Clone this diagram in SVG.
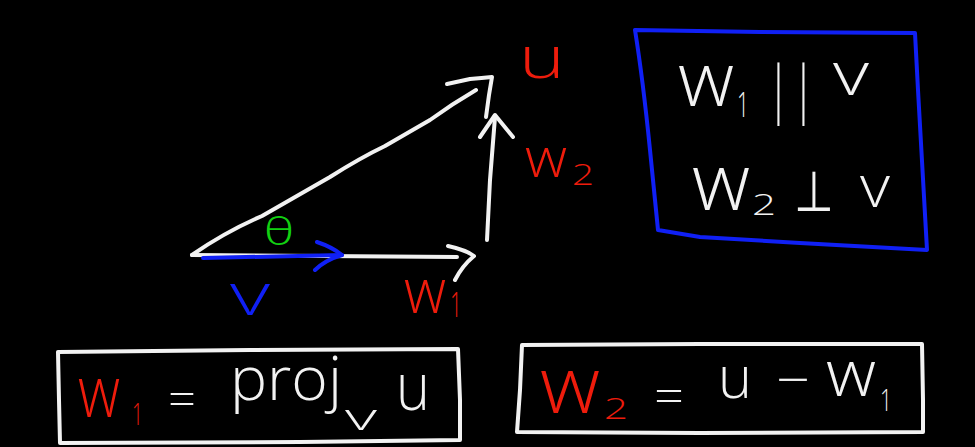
<svg xmlns="http://www.w3.org/2000/svg" width="975" height="447" viewBox="0 0 975 447">
<style>
.ink{fill:none;stroke:#f2f2f2;stroke-width:4;stroke-linecap:round;stroke-linejoin:round}
.bl{fill:none;stroke:#1020f5;stroke-width:4;stroke-linecap:round;stroke-linejoin:round}
text{font-family:"Open Sans","DejaVu Sans",sans-serif;font-weight:300}
.w{fill:#f2f2f2}.r{fill:#ee1c0c}.b{fill:#1020f5}.g{fill:#12d012}
</style>
<rect width="975" height="447" fill="#000"/>
<g id="connectors">
<path class="ink" d="M192,255 Q225,232 262,216 L330,177 Q360,158 385,146 L430,120 Q452,104 476,90"/>
<path class="ink" d="M447,84 L470,79 Q482,78 492,77 L489,95 L486,117"/>
<path class="ink" d="M192,255 L457,257"/>
<path class="ink" d="M448,246 Q466,250 474,256 Q462,266 455,280"/>
<path class="ink" d="M487,240 L490,180 L495,117"/>
<path class="ink" d="M480,137 L495,115 L513,137"/>
<path class="bl" stroke-width="5" d="M203,258 L342,255"/>
<path class="bl" d="M317,242 Q332,247 342,255 Q325,260 315,270"/>
</g>
<g id="labels">
<text class="r" x="519" y="78" font-size="58" textLength="46" lengthAdjust="spacingAndGlyphs">u</text>
<text class="r" x="525" y="177" font-size="56" textLength="42" lengthAdjust="spacingAndGlyphs">w</text>
<text class="r" x="572" y="185" font-size="30" textLength="22" lengthAdjust="spacingAndGlyphs">2</text>
<text class="g" x="264" y="245" font-size="38" textLength="30" lengthAdjust="spacingAndGlyphs">θ</text>
<text class="b" x="230" y="315" font-size="58" textLength="40" lengthAdjust="spacingAndGlyphs">v</text>
<text class="r" x="404" y="313" font-size="62" textLength="42" lengthAdjust="spacingAndGlyphs">w</text>
<text class="r" x="450" y="317" font-size="34" textLength="12" lengthAdjust="spacingAndGlyphs">1</text>
</g>
<g id="box-relations">
<path class="bl" d="M635,30 L760,32 L915,33 L918,90 L927,250 L800,243 L700,237 L658,230 L650,150 Q643,80 635,30 Z"/>
<text class="w" x="678" y="106" font-size="76" textLength="56" lengthAdjust="spacingAndGlyphs">w</text>
<text class="w" x="737" y="117" font-size="34" textLength="12" lengthAdjust="spacingAndGlyphs">1</text>
<text class="w" x="766" y="110" font-size="62" textLength="50" lengthAdjust="spacingAndGlyphs">||</text>
<text class="w" x="833" y="95" font-size="60" textLength="36" lengthAdjust="spacingAndGlyphs">v</text>
<text class="w" x="692" y="210" font-size="80" textLength="58" lengthAdjust="spacingAndGlyphs">w</text>
<text class="w" x="752" y="215" font-size="30" textLength="24" lengthAdjust="spacingAndGlyphs">2</text>
<text class="w" x="794" y="211" font-size="56" textLength="40" lengthAdjust="spacingAndGlyphs">⊥</text>
<text class="w" x="860" y="207" font-size="58" textLength="30" lengthAdjust="spacingAndGlyphs">v</text>
</g>
<g id="box-w1">
<path class="ink" d="M58,352 L250,350 L458,349 L460,400 L460,440 L300,442 L60,443 L59,400 Z"/>
<text class="r" x="78" y="417" font-size="72" textLength="42" lengthAdjust="spacingAndGlyphs">w</text>
<text class="r" x="132" y="425" font-size="32" textLength="11" lengthAdjust="spacingAndGlyphs">1</text>
<text class="w" x="168" y="416" font-size="48" textLength="28" lengthAdjust="spacingAndGlyphs">=</text>
<text class="w" x="230" y="400" font-size="60" textLength="112" lengthAdjust="spacingAndGlyphs">proj</text>
<text class="w" x="345" y="430" font-size="36" textLength="32" lengthAdjust="spacingAndGlyphs">v</text>
<text class="w" x="396" y="410" font-size="66" textLength="34" lengthAdjust="spacingAndGlyphs">u</text>
</g>
<g id="box-w2">
<path class="ink" d="M522,345 L700,344 L922,344 L923,400 L923,432 L700,433 L517,432 L520,390 Z"/>
<text class="r" x="540" y="413" font-size="80" textLength="60" lengthAdjust="spacingAndGlyphs">w</text>
<text class="r" x="604" y="419" font-size="30" textLength="24" lengthAdjust="spacingAndGlyphs">2</text>
<text class="w" x="654" y="413" font-size="48" textLength="30" lengthAdjust="spacingAndGlyphs">=</text>
<text class="w" x="718" y="398" font-size="58" textLength="34" lengthAdjust="spacingAndGlyphs">u</text>
<text class="w" x="776" y="398" font-size="52" textLength="34" lengthAdjust="spacingAndGlyphs">−</text>
<text class="w" x="826" y="396" font-size="64" textLength="50" lengthAdjust="spacingAndGlyphs">w</text>
<text class="w" x="880" y="411" font-size="32" textLength="12" lengthAdjust="spacingAndGlyphs">1</text>
</g>
</svg>
